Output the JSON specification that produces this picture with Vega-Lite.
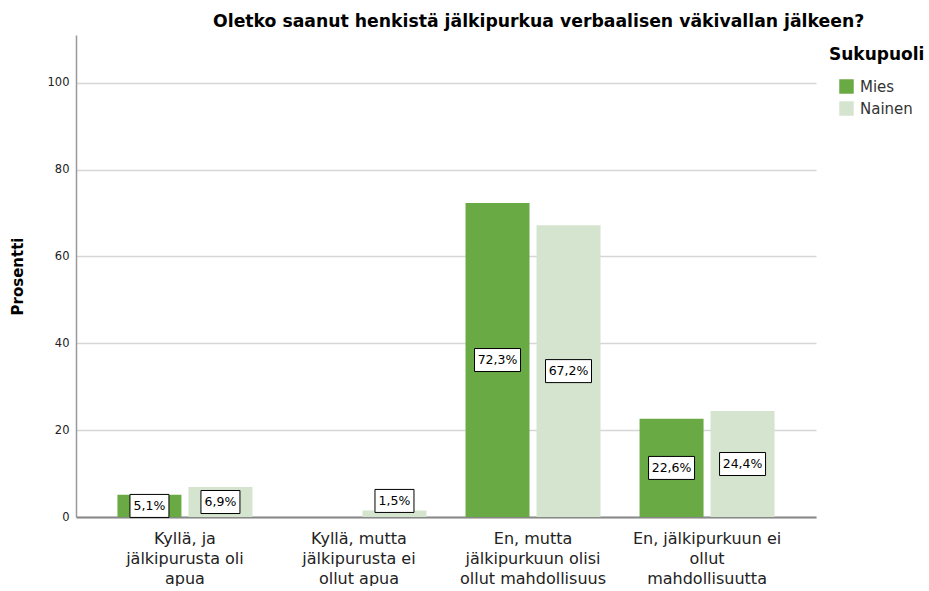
{
  "$schema": "https://vega.github.io/schema/vega-lite/v6.json",
  "width": 740,
  "height": 482,
  "padding": {"left": 10, "top": 12, "right": 0, "bottom": 0},
  "background": "white",
  "title": {
    "text": "Oletko saanut henkistä jälkipurkua verbaalisen väkivallan jälkeen?",
    "anchor": "start",
    "dx": 203,
    "fontSize": 17.25,
    "fontWeight": "bold",
    "font": "DejaVu Sans",
    "color": "#000000",
    "offset": 5
  },
  "data": {
    "values": [
      {"cat": "Kyllä, ja|jälkipurusta oli|apua", "sex": "Mies", "value": 5.1},
      {"cat": "Kyllä, ja|jälkipurusta oli|apua", "sex": "Nainen", "value": 6.9},
      {"cat": "Kyllä, mutta|jälkipurusta ei|ollut apua", "sex": "Nainen", "value": 1.5},
      {"cat": "En, mutta|jälkipurkuun olisi|ollut mahdollisuus", "sex": "Mies", "value": 72.3},
      {"cat": "En, mutta|jälkipurkuun olisi|ollut mahdollisuus", "sex": "Nainen", "value": 67.2},
      {"cat": "En, jälkipurkuun ei|ollut|mahdollisuutta", "sex": "Mies", "value": 22.6},
      {"cat": "En, jälkipurkuun ei|ollut|mahdollisuutta", "sex": "Nainen", "value": 24.4}
    ]
  },
  "transform": [
    {"calculate": "replace(format(datum.value, '.1f'), '.', ',') + '%'", "as": "label"},
    {"calculate": "datum.value < 2 ? 3.7 : datum.value / 2", "as": "labelPos"}
  ],
  "encoding": {
    "x": {
      "field": "cat",
      "type": "nominal",
      "sort": null,
      "scale": {
        "domain": [
          "Kyllä, ja|jälkipurusta oli|apua",
          "Kyllä, mutta|jälkipurusta ei|ollut apua",
          "En, mutta|jälkipurkuun olisi|ollut mahdollisuus",
          "En, jälkipurkuun ei|ollut|mahdollisuutta"
        ],
        "paddingInner": 0,
        "paddingOuter": 0.126
      },
      "axis": {
        "title": null,
        "labelAngle": 0,
        "labelExpr": "split(datum.label, '|')",
        "labelFontSize": 16,
        "labelFont": "DejaVu Sans",
        "labelColor": "#222222",
        "labelLineHeight": 20,
        "labelPadding": 13,
        "ticks": false,
        "domainColor": "#888888",
        "domainWidth": 2,
        "labelBaseline": "top"
      }
    },
    "xOffset": {
      "field": "sex",
      "type": "nominal",
      "scale": {"domain": ["Mies", "Nainen"], "paddingInner": 0.0986, "paddingOuter": 0.275}
    }
  },
  "layer": [
    {
      "mark": {"type": "bar"},
      "encoding": {
        "y": {
          "field": "value",
          "type": "quantitative",
          "scale": {"domain": [0, 111], "nice": false},
          "axis": {
            "title": "Prosentti",
            "titleFontSize": 15,
            "titleFont": "DejaVu Sans",
            "titleFontWeight": "bold",
            "titleColor": "#000000",
            "titlePadding": 22,
            "values": [0, 20, 40, 60, 80, 100],
            "labelFontSize": 11.5,
            "labelFont": "DejaVu Sans",
            "labelColor": "#222222",
            "labelPadding": 7,
            "ticks": false,
            "domainColor": "#999999",
            "domainWidth": 1.5,
            "grid": true,
            "gridColor": "#d6d6d6",
            "gridWidth": 1.5
          }
        },
        "color": {
          "field": "sex",
          "type": "nominal",
          "scale": {"domain": ["Mies", "Nainen"], "range": ["#6aaa45", "#d5e4cf"]},
          "legend": {
            "title": "Sukupuoli",
            "orient": "none",
            "legendX": 753,
            "legendY": 12,
            "titleFontSize": 17,
            "titleFont": "DejaVu Sans",
            "titleFontWeight": "bold",
            "titleColor": "#000000",
            "titlePadding": 15,
            "labelFontSize": 15,
            "labelFont": "DejaVu Sans",
            "labelColor": "#333333",
            "symbolType": "square",
            "symbolSize": 210,
            "symbolStrokeWidth": 0,
            "rowPadding": 6,
            "symbolOffset": 10,
            "labelOffset": 6
          }
        }
      }
    },
    {
      "transform": [{"filter": "datum.value < 10"}],
      "mark": {
        "type": "point",
        "shape": "M-1,-0.59H1V0.59H-1Z",
        "size": 1521,
        "filled": true,
        "fill": "white",
        "stroke": "black",
        "strokeWidth": 1,
        "opacity": 1
      },
      "encoding": {
        "y": {"field": "labelPos", "type": "quantitative"}
      }
    },
    {
      "transform": [{"filter": "datum.value >= 10"}],
      "mark": {
        "type": "point",
        "shape": "M-1,-0.5H1V0.5H-1Z",
        "size": 2116,
        "filled": true,
        "fill": "white",
        "stroke": "black",
        "strokeWidth": 1,
        "opacity": 1
      },
      "encoding": {
        "y": {"field": "labelPos", "type": "quantitative"}
      }
    },
    {
      "mark": {
        "type": "text",
        "fontSize": 12.5,
        "font": "DejaVu Sans",
        "color": "#000000",
        "baseline": "middle",
        "align": "center"
      },
      "encoding": {
        "y": {"field": "labelPos", "type": "quantitative"},
        "text": {"field": "label"}
      }
    }
  ],
  "config": {
    "view": {"stroke": null}
  }
}
